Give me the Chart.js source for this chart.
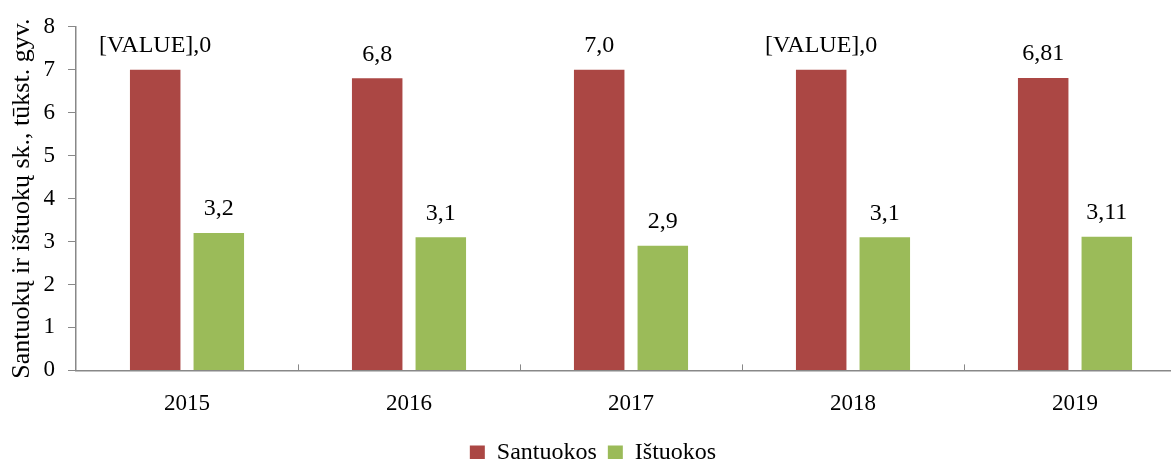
<!DOCTYPE html>
<html lang="lt">
<head>
<meta charset="UTF-8">
<title>Santuokos ir ištuokos</title>
<script src="https://cdn.jsdelivr.net/npm/chart.js"></script>
<style>
  html, body { margin: 0; padding: 0; background: #fff; overflow: hidden; }
  #wrap { width: 1186px; height: 475px; }
</style>
</head>
<body>
<div id="wrap"><canvas id="myChart"></canvas></div>
<script>
const years = ['2015', '2016', '2017', '2018', '2019'];
const santuokos = [7.0, 6.8, 7.0, 7.0, 6.81];
const istuokos = [3.2, 3.1, 2.9, 3.1, 3.11];
const santuokosLabels = ['[VALUE],0', '6,8', '7,0', '[VALUE],0', '6,81'];
const istuokosLabels = ['3,2', '3,1', '2,9', '3,1', '3,11'];
const yTicks = [0, 1, 2, 3, 4, 5, 6, 7, 8];

const serif = "'Liberation Serif', 'Times New Roman', serif";

// value labels above bars
const barLabels = {
  id: 'barLabels',
  afterDatasetsDraw(chart) {
    const ctx = chart.ctx;
    ctx.save();
    ctx.font = '24px ' + serif;
    ctx.fillStyle = '#000';
    ctx.textAlign = 'center';
    ctx.textBaseline = 'middle';
    chart.data.datasets.forEach((ds, di) => {
      const meta = chart.getDatasetMeta(di);
      meta.data.forEach((bar, i) => {
        ctx.fillText(ds.valueLabels[i], bar.x, bar.y - 24);
      });
    });
    ctx.restore();
  }
};

// small tick marks between categories, pointing up from the axis
const catTicks = {
  id: 'catTicks',
  afterDraw(chart) {
    const x = chart.scales.x;
    const ctx = chart.ctx;
    const n = x.ticks.length;
    ctx.save();
    ctx.strokeStyle = '#888';
    ctx.lineWidth = 1;
    for (let i = 1; i <= n; i++) {
      const px = Math.round(x.left + i * x.width / n) + 0.5;
      ctx.beginPath();
      ctx.moveTo(px, x.top);
      ctx.lineTo(px, x.top - 6);
      ctx.stroke();
    }
    ctx.restore();
  }
};

const config = {
  type: 'bar',
  data: {
    labels: years,
    datasets: [
      {
        label: 'Santuokos',
        data: santuokos,
        valueLabels: santuokosLabels,
        backgroundColor: '#AB4744',
        categoryPercentage: 0.573,
        barPercentage: 0.794
      },
      {
        label: 'Ištuokos',
        data: istuokos,
        valueLabels: istuokosLabels,
        backgroundColor: '#9BBB59',
        categoryPercentage: 0.573,
        barPercentage: 0.794
      }
    ]
  },
  options: {
    responsive: true,
    maintainAspectRatio: false,
    animation: false,
    layout: { padding: { left: 0, top: 6, right: 0, bottom: 0 } },
    plugins: {
      tooltip: { enabled: false },
      legend: {
        position: 'bottom',
        labels: {
          font: { family: serif, size: 24 },
          color: '#000',
          boxWidth: 15,
          boxHeight: 15,
          padding: 11
        }
      }
    },
    scales: {
      x: {
        grid: { display: false },
        border: { color: '#888', width: 1.5 },
        ticks: { font: { family: serif, size: 23 }, color: '#000', padding: 12 }
      },
      y: {
        min: 0,
        max: 8,
        afterBuildTicks(axis) { axis.ticks = yTicks.map(v => ({ value: v })); },
        afterFit(axis) { axis.width = 76; },
        grid: { drawOnChartArea: false, drawTicks: true, tickLength: 8, color: '#888' },
        border: { color: '#888', width: 1.5 },
        ticks: { font: { family: serif, size: 23 }, color: '#000', padding: 13 },
        title: {
          display: true,
          text: 'Santuokų ir ištuokų sk., tūkst. gyv.',
          font: { family: serif, size: 26, lineHeight: 1 },
          color: '#000',
          padding: { top: 9, bottom: 0 }
        }
      }
    }
  },
  plugins: [barLabels, catTicks]
};

new Chart(document.getElementById('myChart'), config);
</script>
</body>
</html>
